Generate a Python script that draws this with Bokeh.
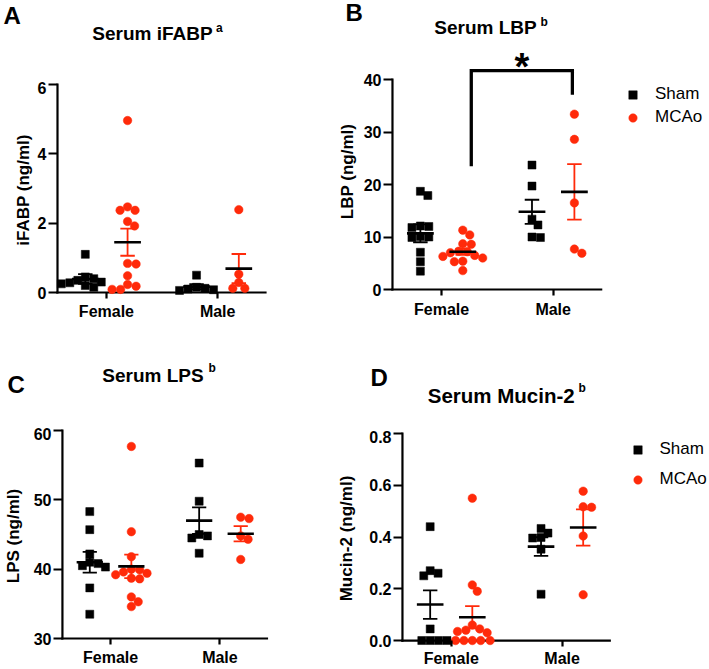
from bokeh.plotting import figure
from bokeh.layouts import column, row
from bokeh.models import FixedTicker, Label, Legend, LegendItem, Range1d
from bokeh.embed import file_html
from bokeh.resources import INLINE

# ---------------- data ----------------
categories = ["Female", "Male"]
group_names = ["Sham", "MCAo"]

# A: Serum iFABP (ng/ml)
ifabp_sham_female = [1.10, 0.45, 0.40, 0.35, 0.30, 0.28, 0.25, 0.20, 0.15]
ifabp_mcao_female = [4.96, 2.47, 2.37, 2.37, 2.05, 1.92, 0.84, 0.82, 0.48, 0.23, 0.18, 0.09, 0.09]
ifabp_sham_male = [0.50, 0.15, 0.12, 0.10, 0.08, 0.06]
ifabp_mcao_male = [2.39, 0.53, 0.29, 0.12, 0.12]
ifabp_mean_sham = [0.39, 0.17]
ifabp_sem_sham = [0.14, 0.07]
ifabp_mean_mcao = [1.45, 0.69]
ifabp_sem_mcao = [0.39, 0.42]
ifabp_ticks = [0, 2, 4, 6]
ifabp_tick_labels = ["0", "2", "4", "6"]

# B: Serum LBP (ng/ml)
lbp_sham_female = [18.7, 17.9, 12.1, 12.0, 11.8, 10.1, 10.0, 9.9, 7.1, 5.3, 3.5]
lbp_mcao_female = [11.3, 10.4, 8.7, 8.6, 7.3, 7.2, 7.0, 6.5, 6.3, 6.0, 5.4, 5.3, 3.6]
lbp_sham_male = [23.7, 19.7, 13.4, 12.3, 10.0, 9.9]
lbp_mcao_male = [33.4, 28.6, 16.5, 7.7, 6.9]
lbp_mean_sham = [10.7, 14.8]
lbp_sem_sham = [1.7, 2.3]
lbp_mean_mcao = [7.2, 18.6]
lbp_sem_mcao = [0.6, 5.3]
lbp_ticks = [0, 10, 20, 30, 40]
lbp_tick_labels = ["0", "10", "20", "30", "40"]
# significance bracket: Female MCAo vs Male MCAo
lbp_sig_label = "*"
lbp_sig_left_bottom = 23.5
lbp_sig_top = 41.7
lbp_sig_right_bottom = 37.1

# C: Serum LPS (ng/ml)
lps_sham_female = [48.3, 45.7, 42.2, 41.0, 40.8, 40.5, 40.3, 37.3, 33.5]
lps_mcao_female = [57.7, 45.4, 41.8, 40.0, 39.9, 39.6, 39.4, 39.2, 38.7, 38.6, 36.0, 35.3, 34.6]
lps_sham_male = [55.3, 49.8, 45.0, 44.8, 44.5, 42.3]
lps_mcao_male = [47.5, 47.3, 44.8, 44.3, 41.4]
lps_mean_sham = [41.0, 47.0]
lps_sem_sham = [1.5, 1.9]
lps_mean_mcao = [40.4, 45.1]
lps_sem_mcao = [1.7, 1.1]
lps_ticks = [30, 40, 50, 60]
lps_tick_labels = ["30", "40", "50", "60"]

# D: Serum Mucin-2 (ng/ml)
muc_sham_female = [0.44, 0.27, 0.26, 0.25, 0.045, 0.0, 0.0, 0.0, 0.0]
muc_mcao_female = [0.55, 0.215, 0.19, 0.06, 0.045, 0.04, 0.035, 0.03, 0.0, 0.0, 0.0, 0.0, 0.0]
muc_sham_male = [0.433, 0.415, 0.398, 0.396, 0.353, 0.179]
muc_mcao_male = [0.577, 0.517, 0.515, 0.404, 0.177]
muc_mean_sham = [0.139, 0.363]
muc_sem_sham = [0.055, 0.036]
muc_mean_mcao = [0.090, 0.437]
muc_sem_mcao = [0.043, 0.070]
muc_ticks = [0.0, 0.2, 0.4, 0.6, 0.8]
muc_tick_labels = ["0.0", "0.2", "0.4", "0.6", "0.8"]

# ---------------- style ----------------
RED = "#FF2A0A"
BLACK = "#000000"
FONT = "Liberation Sans"
X_LO, X_HI = -0.44, 1.43
GROUP_OFFSET = 0.19
MEAN_HALF = 0.12
CAP_HALF = 0.065
AXIS_W = 2.2


class Geo:
    """Page-pixel geometry of one panel (origin at page top-left)."""
    def __init__(self, fig_left, fig_top, fig_w, fig_h, ax_x0, ax_x1, y_hi_px, y_lo_px,
                 ymin, ymax, top_pad):
        self.fig_left, self.fig_top, self.fig_w, self.fig_h = fig_left, fig_top, fig_w, fig_h
        self.ax_x0, self.ax_x1 = ax_x0, ax_x1
        self.y_hi_px, self.y_lo_px = y_hi_px, y_lo_px
        self.ymin, self.ymax = ymin, ymax
        self.frame_left = ax_x0 - 3
        self.frame_right = fig_left + fig_w
        self.frame_top = y_hi_px - top_pad
        self.frame_bottom = y_lo_px + 6
        self.ppx = (ax_x1 - ax_x0) / (X_HI - X_LO)
        self.ppy = (y_lo_px - y_hi_px) / (ymax - ymin)
        self.x_range = (self.dx(self.frame_left), self.dx(self.frame_right))
        self.y_range = (self.dy(self.frame_bottom), self.dy(self.frame_top))

    def dx(self, px):
        return X_LO + (px - self.ax_x0) / self.ppx

    def dy(self, py):
        return self.ymin + (self.y_lo_px - py) / self.ppy


def swarm_offsets(values, ppx, ppy, diam):
    cands = [0.0]
    for k in range(1, 300):
        cands += [k * 0.5, -k * 0.5]
    placed, out = [], []
    for v in values:
        yp = v * ppy
        chosen = 0.0
        for c in cands:
            if all((c - px) ** 2 + (yp - py) ** 2 >= diam ** 2 for px, py in placed):
                chosen = c
                break
        placed.append((chosen, yp))
        out.append(chosen / ppx)
    return out


def header(geo, letter, letter_pos, title, title_pos, title_size, sup, sup_pos):
    h = geo.frame_top - geo.fig_top
    hp = figure(width=geo.fig_w, height=h, title=None,
                x_range=Range1d(geo.fig_left, geo.fig_left + geo.fig_w),
                y_range=Range1d(geo.fig_top + h, geo.fig_top),
                x_axis_type=None, y_axis_type=None, frame_align=False,
                output_backend="svg", toolbar_location=None,
                min_border_left=0, min_border_right=0, min_border_top=0, min_border_bottom=0)
    hp.outline_line_color = None
    hp.background_fill_color = "white"
    hp.border_fill_color = "white"
    hp.add_layout(Label(x=letter_pos[0], y=letter_pos[1], text=letter,
                        text_font=FONT, text_font_style="bold", text_font_size="24px",
                        text_align="left", text_baseline="middle", text_color=BLACK))
    hp.add_layout(Label(x=title_pos[0], y=title_pos[1], text=title,
                        text_font=FONT, text_font_style="bold", text_font_size=title_size,
                        text_align="center", text_baseline="middle", text_color=BLACK))
    hp.add_layout(Label(x=sup_pos[0], y=sup_pos[1], text=sup,
                        text_font=FONT, text_font_style="bold", text_font_size="12px",
                        text_align="left", text_baseline="middle", text_color=BLACK))
    return hp


def build_panel(geo, ylabel, yticks, ytick_labels, sham, mcao, mean_sham, sem_sham,
                mean_mcao, sem_mcao, ylabel_standoff, xlabel_standoff):
    h = geo.fig_top + geo.fig_h - geo.frame_top
    p = figure(width=geo.fig_w, height=h, title=None,
               x_range=Range1d(*geo.x_range), y_range=Range1d(*geo.y_range),
               output_backend="svg", toolbar_location=None, frame_align=False,
               min_border_left=int(round(geo.frame_left - geo.fig_left)),
               min_border_right=0, min_border_top=0,
               min_border_bottom=int(round(geo.fig_top + geo.fig_h - geo.frame_bottom)))
    p.outline_line_color = None
    p.grid.visible = False
    p.background_fill_color = "white"
    p.border_fill_color = "white"

    xa, ya = p.xaxis[0], p.yaxis[0]
    xa.ticker = FixedTicker(ticks=[0, 1])
    xa.major_label_overrides = {0: categories[0], 1: categories[1]}
    ya.ticker = FixedTicker(ticks=yticks)
    ya.major_label_overrides = {t: s for t, s in zip(yticks, ytick_labels)}
    for ax in (xa, ya):
        ax.axis_line_color = None
        ax.major_tick_line_color = BLACK
        ax.major_tick_line_width = AXIS_W
        ax.minor_tick_line_color = None
        ax.major_label_text_font = FONT
        ax.major_label_text_font_style = "bold"
        ax.major_label_text_font_size = "16px"
        ax.major_label_text_color = BLACK
    xa.major_tick_in = 6
    xa.major_tick_out = 0
    xa.major_label_standoff = xlabel_standoff
    ya.major_tick_in = 3
    ya.major_tick_out = 6
    ya.major_label_standoff = 2
    ya.axis_label = ylabel
    ya.axis_label_text_font = FONT
    ya.axis_label_text_font_style = "bold"
    ya.axis_label_text_font_size = "17px"
    ya.axis_label_text_color = BLACK
    ya.axis_label_standoff = ylabel_standoff

    # axis lines (own, so that they stop at the data limits)
    p.segment(x0=[X_LO, X_LO], y0=[geo.ymin, geo.ymin], x1=[X_LO, X_HI], y1=[geo.ymax, geo.ymin],
              line_color=BLACK, line_width=AXIS_W, line_cap="square")

    # points
    renderers = {}
    for gi, (vals_by_cat, marker, color, size) in enumerate(
            [(sham, "square", BLACK, 8), (mcao, "circle", RED, 8.5)]):
        xs, ys = [], []
        sign = -1 if gi == 0 else 1
        for ci, vals in enumerate(vals_by_cat):
            offs = swarm_offsets([v - geo.ymin for v in vals], geo.ppx, geo.ppy, 8.2)
            for v, o in zip(vals, offs):
                xs.append(ci + sign * GROUP_OFFSET + o)
                ys.append(v)
        renderers[gi] = p.scatter(xs, ys, marker=marker, size=size, fill_color=color,
                                  line_color=color, line_width=0.5)

    # mean +/- SEM
    for gi, (means, sems, color) in enumerate([(mean_sham, sem_sham, BLACK),
                                                (mean_mcao, sem_mcao, RED)]):
        sign = -1 if gi == 0 else 1
        cx = [ci + sign * GROUP_OFFSET for ci in range(len(categories))]
        p.segment(x0=cx, x1=cx, y0=[m - s for m, s in zip(means, sems)],
                  y1=[m + s for m, s in zip(means, sems)], line_color=color, line_width=1.8)
        for sgn in (-1, 1):
            yy = [m + sgn * s for m, s in zip(means, sems)]
            p.segment(x0=[c - CAP_HALF for c in cx], x1=[c + CAP_HALF for c in cx],
                      y0=yy, y1=yy, line_color=color, line_width=1.8)
        p.segment(x0=[c - MEAN_HALF for c in cx], x1=[c + MEAN_HALF for c in cx],
                  y0=means, y1=means, line_color=BLACK, line_width=2.6)
    return p, renderers


def add_legend(p, geo, renderers, cx, cy_first, spacing):
    leg = Legend(items=[LegendItem(label=group_names[0], renderers=[renderers[0]]),
                        LegendItem(label=group_names[1], renderers=[renderers[1]])],
                 orientation="vertical", glyph_width=21, glyph_height=21,
                 label_standoff=12, spacing=spacing, padding=0, margin=0,
                 border_line_color=None, background_fill_alpha=0,
                 label_text_font=FONT, label_text_font_size="17px", label_text_color=BLACK,
                 label_height=21, label_width=20)
    left = cx - 10.5 - geo.frame_left
    bottom_page = cy_first - 10.5 + 2 * 21 + spacing
    leg.location = (left, geo.frame_bottom - bottom_page)
    p.add_layout(leg)


# ---------------- panels ----------------
gA = Geo(0, 0, 334, 326, 57, 265, 84, 292, 0, 6, 3)
hA = header(gA, "A", (3, 15), "Serum iFABP", (152, 33), "19px", "a", (215.5, 27.5))
pA, rA = build_panel(gA, "iFABP (ng/ml)", ifabp_ticks, ifabp_tick_labels,
                     [ifabp_sham_female, ifabp_sham_male], [ifabp_mcao_female, ifabp_mcao_male],
                     ifabp_mean_sham, ifabp_sem_sham, ifabp_mean_mcao, ifabp_sem_mcao, 2, 4)

gB = Geo(334, 0, 375, 326, 390, 600, 79, 289, 0, 40, 32)
hB = header(gB, "B", (345, 12), "Serum LBP", (485, 26.7), "19px", "b", (540, 21.5))
pB, rB = build_panel(gB, "LBP (ng/ml)", lbp_ticks, lbp_tick_labels,
                     [lbp_sham_female, lbp_sham_male], [lbp_mcao_female, lbp_mcao_male],
                     lbp_mean_sham, lbp_sem_sham, lbp_mean_mcao, lbp_sem_mcao, 4, 5)
bx = [0 + GROUP_OFFSET + 0.076, 0 + GROUP_OFFSET + 0.076,
      1 + GROUP_OFFSET - 0.018, 1 + GROUP_OFFSET - 0.018]
by = [lbp_sig_left_bottom, lbp_sig_top, lbp_sig_top, lbp_sig_right_bottom]
pB.line(bx, by, line_color=BLACK, line_width=3.3, line_join="miter")
pB.add_layout(Label(x=(bx[1] + bx[2]) / 2, y=gB.dy(66), text=lbp_sig_label, text_font=FONT,
                    text_font_style="bold", text_font_size="38px", text_align="center",
                    text_baseline="middle", text_color=BLACK))
add_legend(pB, gB, rB, 630.5, 94.3, 2)

gC = Geo(0, 326, 334, 343, 56, 265, 430, 638, 30, 60, 3)
hC = header(gC, "C", (7, 384), "Serum LPS", (152.5, 375), "19px", "b", (208, 367.5))
pC, rC = build_panel(gC, "LPS (ng/ml)", lps_ticks, lps_tick_labels,
                     [lps_sham_female, lps_sham_male], [lps_mcao_female, lps_mcao_male],
                     lps_mean_sham, lps_sem_sham, lps_mean_mcao, lps_sem_mcao, 8, 4)

gD = Geo(334, 326, 375, 343, 398, 608, 433, 641, 0, 0.8, 3)
hD = header(gD, "D", (370, 376.5), "Serum Mucin-2", (500.7, 395), "20.5px", "b", (578, 387.5))
pD, rD = build_panel(gD, "Mucin-2 (ng/ml)", muc_ticks, muc_tick_labels,
                     [muc_sham_female, muc_sham_male], [muc_mcao_female, muc_mcao_male],
                     muc_mean_sham, muc_sem_sham, muc_mean_mcao, muc_sem_mcao, 10, 3)
add_legend(pD, gD, rD, 633, 450, 9)

layout = column(row(column(hA, pA), column(hB, pB)),
                row(column(hC, pC), column(hD, pD)))
open("out.html", "w").write(file_html(layout, INLINE, "Serum markers"))
